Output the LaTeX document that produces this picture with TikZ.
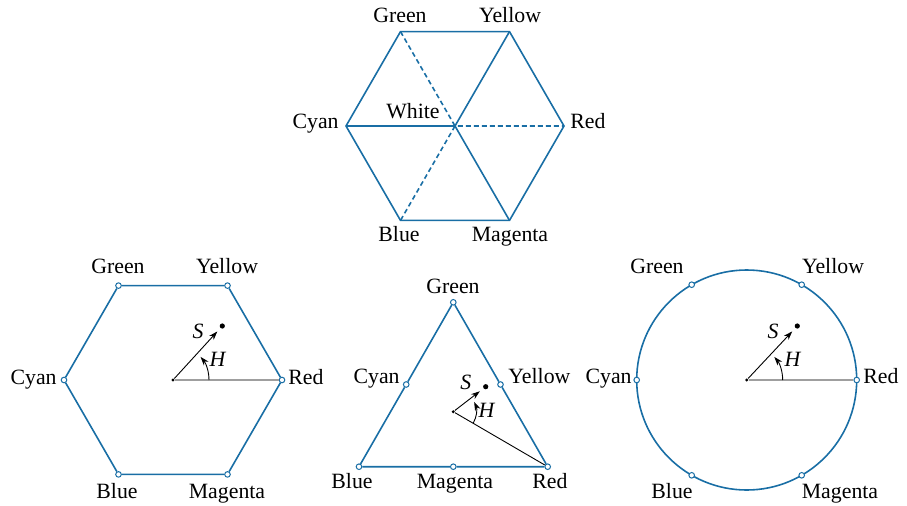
\documentclass[tikz,border=0pt]{standalone}
\usepackage{fontspec}
\setmainfont{Liberation Serif}
\usetikzlibrary{arrows.meta}
\definecolor{hsiB}{RGB}{25,110,165}
\tikzset{
  edge/.style={hsiB,line width=0.8pt},
  lbl/.style={inner sep=0pt,anchor=base},
  vdot/.style={circle,draw=hsiB,fill=white,line width=0.5pt,inner sep=0pt,minimum size=2.8pt},
  cdot/.style={circle,fill=black,inner sep=0pt,minimum size=1.6pt},
  sdot/.style={circle,fill=black,inner sep=0pt,minimum size=2.6pt},
  svec/.style={->,line width=0.45pt,shorten >=2.2pt},
  hvec/.style={->,line width=0.45pt}
}
\begin{document}
\begin{tikzpicture}[x=0.5pt,y=-0.5pt,>={Stealth[length=4.4pt,width=3pt]},
  font=\fontsize{10.9}{13}\selectfont]
\useasboundingbox (0,0) rectangle (907,505);
% hexcone seen from above
\coordinate (hxO) at (455,126);
\coordinate (hxR) at (564,126); \coordinate (hxY) at (509.5,31.6);
\coordinate (hxG) at (400.5,31.6); \coordinate (hxC) at (346,126);
\coordinate (hxB) at (400.5,220.4); \coordinate (hxM) at (509.5,220.4);
\draw[edge] (hxR)--(hxY)--(hxG)--(hxC)--(hxB)--(hxM)--cycle;
\draw[edge] (hxC)--(hxO)--(hxY) (hxO)--(hxM);
\draw[edge,dash pattern=on 2.4pt off 1.6pt] (hxG)--(hxO)--(hxR) (hxO)--(hxB);
\node[lbl] (hxGl) at (400,22) {Green};
\node[lbl] (hxYl) at (510,22) {Yellow};
\node[lbl,anchor=base east] (hxCl) at (339,128) {Cyan};
\node[lbl,anchor=base west] (hxRl) at (570,128) {Red};
\node[lbl] (hxWl) at (413,118) {White};
\node[lbl] (hxBl) at (399,241) {Blue};
\node[lbl] (hxMl) at (510,241) {Magenta};
% hexagon
\node[vdot] (hgR) at (282,380) {}; \node[vdot] (hgY) at (227.5,285.6) {};
\node[vdot] (hgG) at (118.5,285.6) {}; \node[vdot] (hgC) at (64,380) {};
\node[vdot] (hgB) at (118.5,474.4) {}; \node[vdot] (hgM) at (227.5,474.4) {};
\draw[edge] (hgR)--(hgY)--(hgG)--(hgC)--(hgB)--(hgM)--(hgR);
\node[cdot] (hgO) at (173,380) {};
\node[sdot] (hgS) at (222.3,326) {};
\draw[gray!75,line width=0.8pt] (hgO)--(hgR);
\draw[svec] (hgO)--(hgS);
\draw[hvec] ([xshift=18pt]hgO.center) arc[start angle=0,end angle=-40,radius=36];
\node[lbl] (hgSl) at (198,338) {\textit{S}};
\node[lbl] (hgHl) at (218,366) {\textit{H}};
\node[lbl] (hgGl) at (118,273) {Green};
\node[lbl] (hgYl) at (227,273) {Yellow};
\node[lbl,anchor=base east] (hgCl) at (57,384) {Cyan};
\node[lbl,anchor=base west] (hgRl) at (288,384) {Red};
\node[lbl] (hgBl) at (117,498) {Blue};
\node[lbl] (hgMl) at (227,498) {Magenta};
% triangle
\node[vdot] (trG) at (453.3,302.3) {}; \node[vdot] (trB) at (359,466.7) {};
\node[vdot] (trR) at (547.7,466.7) {}; \node[vdot] (trC) at (406.2,384.5) {};
\node[vdot] (trY) at (500.5,384.5) {}; \node[vdot] (trM) at (453.3,466.7) {};
\draw[edge] (trG)--(trC)--(trB)--(trM)--(trR)--(trY)--(trG);
\node[cdot] (trO) at (453.3,411.7) {};
\node[sdot] (trS) at (485.7,386.7) {};
\draw[line width=0.45pt] (trO)--(trR);
\draw[svec] (trO)--(trS);
\draw[hvec] ([shift={(30:23)}]trO.center) arc[start angle=30,end angle=-25,radius=23];
\node[lbl] (trSl) at (465.7,389.5) {\textit{S}};
\node[lbl] (trHl) at (487,417.5) {\textit{H}};
\node[lbl] (trGl) at (453,293) {Green};
\node[lbl,anchor=base east] (trCl) at (400,383) {Cyan};
\node[lbl,anchor=base west] (trYl) at (508,383) {Yellow};
\node[lbl] (trBl) at (352,488) {Blue};
\node[lbl] (trMl) at (455,488) {Magenta};
\node[lbl] (trRl) at (550,488) {Red};
% circle
\node[cdot] (ciO) at (746.7,380) {};
\draw[edge] (ciO.center) circle[radius=110];
\node[vdot] (ciR) at (856.7,380) {}; \node[vdot] (ciY) at (801.7,284.7) {};
\node[vdot] (ciG) at (691.7,284.7) {}; \node[vdot] (ciC) at (636.7,380) {};
\node[vdot] (ciB) at (691.7,475.3) {}; \node[vdot] (ciM) at (801.7,475.3) {};
\node[sdot] (ciS) at (797.3,326) {};
\draw[gray!75,line width=0.8pt] (ciO)--(ciR);
\draw[svec] (ciO)--(ciS);
\draw[hvec] ([xshift=18pt]ciO.center) arc[start angle=0,end angle=-40,radius=36];
\node[lbl] (ciSl) at (773,338) {\textit{S}};
\node[lbl] (ciHl) at (793,366) {\textit{H}};
\node[lbl] (ciGl) at (657,273) {Green};
\node[lbl] (ciYl) at (833,273) {Yellow};
\node[lbl,anchor=base east] (ciCl) at (632,383) {Cyan};
\node[lbl,anchor=base west] (ciRl) at (863,383) {Red};
\node[lbl] (ciBl) at (672,498) {Blue};
\node[lbl] (ciMl) at (840,498) {Magenta};
\end{tikzpicture}
\end{document}
